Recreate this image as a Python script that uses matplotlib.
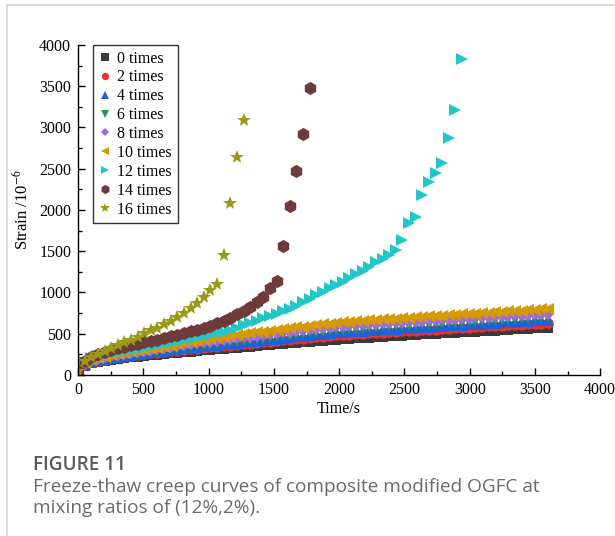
import matplotlib
matplotlib.use('Agg')

import matplotlib.pyplot as plt
from matplotlib.lines import Line2D
from matplotlib.ticker import MultipleLocator

# ============================================================
# DATA
# ============================================================

# sampling instants of the creep test (s), 72 readings over 3600 s
time_s = [
    0, 51, 101, 152, 203, 254, 304, 355, 406, 456, 507,
    558, 608, 659, 710, 761, 811, 862, 913, 963, 1014,
    1065, 1115, 1166, 1217, 1268, 1318, 1369, 1420, 1470, 1521,
    1572, 1623, 1673, 1724, 1775, 1825, 1876, 1927, 1977,
    2028, 2079, 2130, 2180, 2231, 2282, 2332, 2383, 2434, 2485,
    2535, 2586, 2637, 2687, 2738, 2789, 2839, 2890, 2941, 2992,
    3042, 3093, 3144, 3194, 3245, 3296, 3346, 3397, 3448, 3499, 3549, 3600,
]

# strain (10^-6) after n freeze-thaw cycles
strain_0 = [
    30, 110, 140, 158, 172, 184, 195, 205, 214, 223, 232,
    240, 248, 255, 263, 270, 277, 284, 291, 298, 305,
    312, 318, 325, 332, 338, 345, 352, 358, 365, 372,
    378, 385, 391, 398, 404, 410, 417, 423, 430,
    435, 440, 445, 449, 454, 459, 464, 469, 473, 478,
    482, 487, 491, 496, 500, 504, 509, 513, 518, 522,
    526, 530, 535, 539, 544, 548, 553, 557, 562, 566, 571, 575,
]
strain_2 = [
    35, 120, 152, 172, 187, 200, 212, 223, 233, 243, 253,
    261, 269, 278, 286, 294, 302, 310, 319, 327, 335,
    342, 350, 357, 365, 372, 380, 387, 395, 402, 410,
    418, 426, 433, 441, 449, 457, 464, 472, 480,
    485, 490, 494, 499, 504, 509, 514, 518, 523, 528,
    533, 537, 542, 547, 551, 556, 561, 566, 570, 575,
    579, 584, 588, 593, 597, 602, 606, 611, 615, 620, 624, 628,
]
strain_4 = [
    40, 128, 160, 181, 197, 211, 224, 236, 247, 257, 267,
    276, 286, 295, 304, 314, 323, 332, 342, 351, 360,
    368, 376, 384, 392, 400, 408, 416, 424, 432, 440,
    449, 458, 467, 476, 484, 493, 502, 511, 520,
    525, 530, 534, 539, 544, 549, 554, 558, 563, 568,
    573, 577, 582, 587, 591, 596, 601, 606, 610, 615,
    620, 624, 629, 634, 638, 643, 648, 652, 657, 662, 666, 670,
]
strain_6 = [
    42, 132, 166, 188, 205, 219, 232, 244, 256, 267, 278,
    288, 298, 309, 319, 329, 339, 349, 360, 370, 380,
    389, 398, 407, 416, 425, 434, 443, 452, 461, 470,
    479, 489, 498, 508, 517, 527, 536, 546, 555,
    560, 565, 570, 575, 580, 585, 590, 595, 600, 605,
    610, 614, 619, 624, 628, 633, 638, 643, 647, 652,
    657, 661, 666, 670, 675, 679, 684, 688, 693, 697, 701, 705,
]
strain_8 = [
    45, 138, 172, 195, 213, 228, 242, 255, 267, 279, 290,
    302, 313, 325, 336, 348, 359, 371, 382, 394, 405,
    415, 425, 435, 445, 455, 465, 475, 485, 495, 505,
    515, 524, 534, 544, 553, 563, 573, 582, 592,
    597, 603, 608, 613, 619, 624, 629, 634, 640, 645,
    650, 655, 659, 664, 669, 674, 679, 683, 688, 693,
    697, 702, 706, 711, 715, 720, 724, 729, 733, 737, 741, 745,
]
strain_10 = [
    48, 145, 180, 204, 223, 239, 254, 268, 281, 293, 305,
    318, 331, 344, 357, 370, 383, 396, 409, 422, 435,
    447, 458, 470, 481, 493, 504, 516, 527, 539, 550,
    559, 568, 577, 586, 596, 605, 614, 623, 632,
    638, 644, 649, 655, 661, 667, 673, 678, 684, 690,
    695, 700, 705, 710, 715, 720, 725, 730, 735, 740,
    745, 750, 755, 760, 765, 770, 775, 780, 785, 790, 795, 800,
]
strain_12 = [
    40, 160, 200, 225, 243, 260, 275, 290, 304, 318, 333,
    347, 362, 377, 392, 407, 422, 438, 455, 472, 490,
    508, 526, 545, 575, 608, 635, 660, 687, 715, 745,
    775, 805, 835, 880, 920, 965, 1010, 1050, 1085,
    1130, 1172, 1220, 1264, 1313, 1366, 1400, 1455, 1520, 1632,
    1839, 1919, 2182, 2336, 2452, 2566, 2876, 3212, 3830,
]
strain_14 = [
    50, 170, 215, 250, 276, 300, 322, 342, 360, 378, 395,
    412, 430, 448, 467, 487, 507, 528, 550, 573, 598,
    627, 658, 695, 735, 779, 828, 881, 949, 1055, 1143,
    1567, 2048, 2473, 2925, 3482,
]
strain_16 = [
    50, 175, 220, 255, 290, 325, 360, 395, 430, 464, 510,
    540, 575, 614, 655, 699, 748, 808, 876, 949, 1030,
    1103, 1455, 2081, 2638, 3087,
]

series_labels = ['0 times', '2 times', '4 times', '6 times', '8 times',
                 '10 times', '12 times', '14 times', '16 times']
series_values = [strain_0, strain_2, strain_4, strain_6, strain_8,
                 strain_10, strain_12, strain_14, strain_16]

# ============================================================
# STYLE
# ============================================================

markers = ['s', 'o', '^', 'v', 'D', '<', '>', 'h', '*']
colors = ['#3a3a3a', '#ee3030', '#1f5fd8', '#1b9a55', '#a468e0',
          '#d49a00', '#22c6c8', '#6e3b3b', '#9a9a18']
sizes = [7.5, 7.5, 8.5, 8.5, 6.5, 8.5, 8.5, 9.5, 10]

plt.rcParams['font.family'] = ['Liberation Serif', 'DejaVu Serif']
plt.rcParams['mathtext.fontset'] = 'stix'

fig = plt.figure(figsize=(6.15, 5.36), dpi=100, facecolor='white')
ax = fig.add_axes([0.127, 0.3004, 0.849, 0.6157])

# ============================================================
# PLOT
# ============================================================

for label, values, mk, col, ms in zip(series_labels, series_values,
                                      markers, colors, sizes):
    ax.plot(time_s[:len(values)], values, linestyle='none', marker=mk,
            markersize=ms, color=col, markeredgewidth=0, label=label)

ax.set_xlim(0, 4000)
ax.set_ylim(0, 4000)
ax.xaxis.set_major_locator(MultipleLocator(500))
ax.xaxis.set_minor_locator(MultipleLocator(250))
ax.yaxis.set_major_locator(MultipleLocator(500))
ax.yaxis.set_minor_locator(MultipleLocator(250))

ax.spines['top'].set_visible(False)
ax.spines['right'].set_visible(False)
for side in ['left', 'bottom']:
    ax.spines[side].set_linewidth(1.0)
    ax.spines[side].set_color('black')

ax.tick_params(which='major', direction='in', length=5, width=1,
               labelsize=11.5, pad=5)
ax.tick_params(which='minor', direction='in', length=3, width=1)

ax.set_xlabel('Time/s', fontsize=11.5, labelpad=2)
ax.set_ylabel('Strain /10$^{-6}$', fontsize=12, labelpad=5)

leg = ax.legend(loc='upper left', bbox_to_anchor=(0.028, 1.0),
                borderaxespad=0, fontsize=11.5, frameon=True,
                fancybox=False, edgecolor='black', handlelength=0.8,
                handletextpad=0.4, labelspacing=0.18, borderpad=0.35,
                markerscale=0.7)
leg.get_frame().set_linewidth(1.0)

# ============================================================
# CARD BORDER + CAPTION
# ============================================================

W, H = 615, 536
fig.add_artist(Line2D([7 / W, 7 / W], [0, 1 - 5 / H],
                      transform=fig.transFigure, color='#d4d4d4', lw=1.2))
fig.add_artist(Line2D([7 / W, 1], [1 - 5 / H, 1 - 5 / H],
                      transform=fig.transFigure, color='#d4d4d4', lw=1.2))

fig.text(33 / W, 1 - 465 / H, 'FIGURE 11', family='Open Sans',
         fontsize=13.7, fontweight='semibold', color='#5a5a5a', va='center')
fig.text(33 / W, 1 - 487 / H,
         'Freeze-thaw creep curves of composite modified OGFC at',
         family='Open Sans', fontsize=13.7, color='#6a6a6a', va='center')
fig.text(33 / W, 1 - 508 / H, 'mixing ratios of (12%,2%).',
         family='Open Sans', fontsize=13.7, color='#6a6a6a', va='center')

fig.savefig('out.png', dpi=100, facecolor='white')
plt.close(fig)
